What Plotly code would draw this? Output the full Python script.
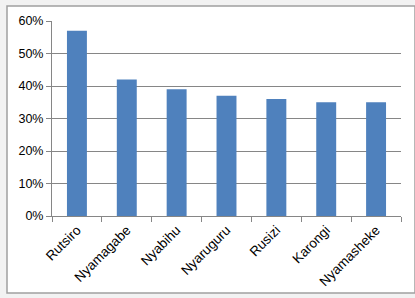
import plotly.graph_objects as go

categories = ["Rutsiro", "Nyamagabe", "Nyabihu", "Nyaruguru", "Rusizi", "Karongi", "Nyamasheke"]
values = [0.57, 0.42, 0.39, 0.37, 0.36, 0.35, 0.35]
y_ticks = [0, 0.1, 0.2, 0.3, 0.4, 0.5, 0.6]
y_tick_labels = ["0%", "10%", "20%", "30%", "40%", "50%", "60%"]

fig = go.Figure(go.Bar(x=categories, y=values, marker=dict(color="#4f81bd", line=dict(width=0))))

fig.update_layout(
    width=415, height=298,
    margin=dict(l=52, r=14, t=21, b=82),
    paper_bgcolor="white", plot_bgcolor="white",
    bargap=0.6, showlegend=False,
    font=dict(family="Liberation Sans, Arial, sans-serif", size=12, color="black"),
    shapes=[
        dict(type="rect", xref="paper", yref="paper", x0=-52/349, x1=1+14/349, y0=-82/195, y1=1+21/195,
             line=dict(width=0), fillcolor="#f2f2f2", layer="below"),
        dict(type="rect", xref="paper", yref="paper", x0=-45/349, x1=1+14/349, y0=-(82-5)/195, y1=1+(21-6)/195,
             line=dict(color="#a0a0a0", width=1.5), fillcolor="white", layer="below"),
    ],
)
fig.update_yaxes(
    range=[0, 0.6], tickvals=y_ticks, ticktext=y_tick_labels,
    showgrid=True, gridcolor="#868686", gridwidth=1,
    showline=True, linecolor="#868686", linewidth=1,
    ticks="outside", ticklen=5, tickcolor="#868686",
    zeroline=False, tickfont=dict(size=12.5), automargin=False,
)
fig.update_xaxes(
    tickangle=-45, showline=True, linecolor="#868686", linewidth=1,
    ticks="outside", ticklen=5, tickcolor="#868686", tickson="boundaries",
    tickfont=dict(size=13.5), automargin=False,
)

fig.write_html("out.html")
